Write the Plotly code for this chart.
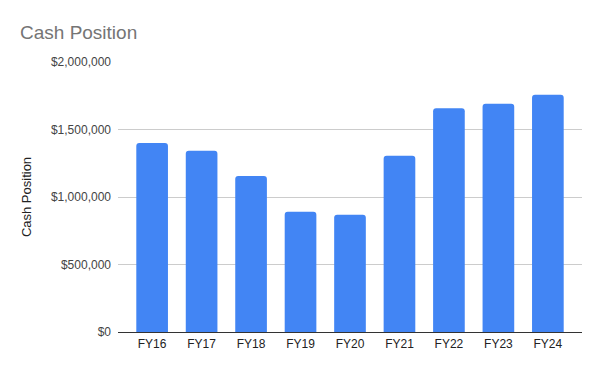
import plotly.graph_objects as go

categories = ["FY16", "FY17", "FY18", "FY19", "FY20", "FY21", "FY22", "FY23", "FY24"]
cash_position = [1400000, 1342000, 1155000, 891000, 869000, 1305000, 1658000, 1690000, 1757000]
y_tick_values = [0, 500000, 1000000, 1500000, 2000000]

FONT = "Liberation Sans, Arial, sans-serif"

fig = go.Figure(
    go.Bar(
        x=categories,
        y=cash_position,
        marker=dict(color="#4285F4", cornerradius=3, line=dict(width=0)),
        width=0.64,
        hoverinfo="skip",
    )
)

fig.update_layout(
    width=600,
    height=371,
    margin=dict(l=118, r=18, t=62, b=39),
    paper_bgcolor="white",
    plot_bgcolor="white",
    font=dict(family=FONT, size=12, color="#222222"),
    title=dict(
        text="Cash Position",
        x=20 / 600,
        xanchor="left",
        y=1 - 32 / 371,
        yanchor="middle",
        font=dict(family=FONT, size=19, color="#757575"),
    ),
    showlegend=False,
    bargap=0.36,
)

fig.update_xaxes(
    range=[-0.69, 8.69],
    showgrid=False,
    showline=False,
    ticks="",
    ticklabelstandoff=3,
    tickfont=dict(size=12, color="#222222"),
)

fig.update_yaxes(
    range=[0, 2000000],
    tickvals=y_tick_values,
    tickformat="$,.0f",
    showgrid=True,
    gridcolor="#cccccc",
    gridwidth=1,
    zeroline=True,
    zerolinecolor="#333333",
    zerolinewidth=1,
    showline=False,
    ticks="",
    ticklabelstandoff=6,
    tickfont=dict(size=12, color="#444444"),
    title=dict(text="Cash Position", font=dict(size=13, color="#222222"), standoff=16),
)

fig.write_html(
    "out.html",
    config={"displayModeBar": False},
    post_script="document.body.style.margin='0';document.body.style.padding='0';",
)
